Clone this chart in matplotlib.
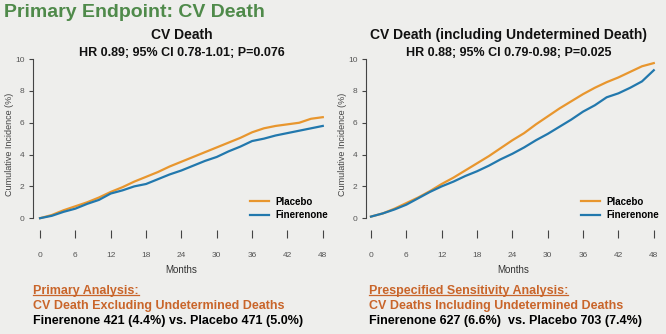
import numpy as np
import matplotlib.pyplot as plt
from matplotlib.lines import Line2D

plt.rcParams['font.family'] = ['Liberation Sans', 'DejaVu Sans']

# cumulative incidence (%) read every 2 months
months = np.arange(0, 49, 2)

cv_placebo = [0.0, 0.2, 0.5, 0.75, 1.0, 1.3, 1.65, 1.95, 2.3, 2.6, 2.9, 3.25, 3.55,
              3.85, 4.15, 4.45, 4.75, 5.05, 5.4, 5.65, 5.8, 5.9, 6.0, 6.25, 6.35]
cv_finerenone = [0.0, 0.15, 0.4, 0.6, 0.9, 1.15, 1.55, 1.75, 2.0, 2.15, 2.45, 2.75, 3.0,
                 3.3, 3.6, 3.85, 4.2, 4.5, 4.85, 5.0, 5.2, 5.35, 5.5, 5.65, 5.8]

und_placebo = [0.1, 0.3, 0.6, 0.95, 1.3, 1.7, 2.15, 2.55, 3.0, 3.45, 3.9, 4.4, 4.9,
               5.35, 5.9, 6.4, 6.9, 7.35, 7.8, 8.2, 8.55, 8.85, 9.2, 9.55, 9.75]
und_finerenone = [0.1, 0.3, 0.55, 0.85, 1.25, 1.65, 2.0, 2.3, 2.65, 2.95, 3.3, 3.7, 4.05,
                  4.45, 4.9, 5.3, 5.75, 6.2, 6.7, 7.1, 7.6, 7.85, 8.2, 8.6, 9.3]

xticks = list(range(0, 49, 6))
yticks = [0, 2, 4, 6, 8, 10]

BG = '#eeeeec'
ORANGE = '#e8962e'
BLUE = '#2278ad'
TXT_ORANGE = '#c9652a'
GREEN = '#4f8a4a'

fig = plt.figure(figsize=(6.66, 3.34), dpi=100, facecolor=BG)

fig.text(0.006, 0.963, 'Primary Endpoint: CV Death', color=GREEN, fontsize=14,
         fontweight='bold', va='center', ha='left')


def km_panel(rect, xmin, placebo, finerenone, title, hr, cx):
    ax = fig.add_axes(rect)
    ax.set_facecolor(BG)
    ax.plot(months, placebo, color=ORANGE, lw=1.6, label='Placebo')
    ax.plot(months, finerenone, color=BLUE, lw=1.6, label='Finerenone')
    ax.set_xlim(xmin, 49)
    ax.set_ylim(-0.75, 10)
    for s in ['top', 'right', 'bottom']:
        ax.spines[s].set_visible(False)
    ax.spines['left'].set_bounds(0, 10)
    ax.spines['left'].set_color('#444444')
    ax.spines['left'].set_linewidth(0.8)
    ax.set_xticks(xticks)
    ax.set_yticks(yticks)
    ax.tick_params(axis='x', length=6, width=0.8, color='#444444', pad=10,
                   labelsize=6, labelcolor='#555555')
    ax.tick_params(axis='y', length=3, width=0.8, color='#444444', pad=3,
                   labelsize=6, labelcolor='#555555')
    ax.set_xlabel('Months', fontsize=7, color='#333333', labelpad=4)
    ax.set_ylabel('Cumulative Incidence (%)', fontsize=6.5, color='#444444', labelpad=1)
    ax.legend(loc='lower right', bbox_to_anchor=(1.01, 0.035), frameon=False,
              handlelength=2.0, handletextpad=0.6, labelspacing=0.35,
              prop={'size': 7, 'weight': 'bold'}, borderaxespad=0)
    fig.text(cx, 0.895, title, fontsize=10, fontweight='bold', ha='center', va='center',
             color='#111111')
    fig.text(cx, 0.84, hr, fontsize=9, fontweight='bold', ha='center', va='center',
             color='#111111')
    return ax


km_panel([0.0495, 0.311, 0.444, 0.512], -1.2, cv_placebo, cv_finerenone,
         'CV Death', 'HR 0.89; 95% CI 0.78-1.01; P=0.076', 0.273)
km_panel([0.5495, 0.311, 0.441, 0.512], -0.85, und_placebo, und_finerenone,
         'CV Death (including Undetermined Death)', 'HR 0.88; 95% CI 0.79-0.98; P=0.025',
         0.764)

notes = [
    (0.05, 'Primary Analysis:', 'CV Death Excluding Undetermined Deaths',
     'Finerenone 421 (4.4%) vs. Placebo 471 (5.0%)'),
    (0.554, 'Prespecified Sensitivity Analysis:', 'CV Deaths Including Undetermined Deaths',
     'Finerenone 627 (6.6%)  vs. Placebo 703 (7.4%)'),
]
heads = []
for x0, head, sub, counts in notes:
    heads.append(fig.text(x0, 0.129, head, fontsize=9, fontweight='bold',
                          color=TXT_ORANGE, va='center'))
    fig.text(x0, 0.084, sub, fontsize=9, fontweight='bold', color=TXT_ORANGE,
             va='center')
    fig.text(x0, 0.039, counts, fontsize=9, fontweight='bold', color='black',
             va='center')

# underline the analysis headings
fig.canvas.draw()
inv = fig.transFigure.inverted()
for t in heads:
    bb = t.get_window_extent().transformed(inv)
    fig.add_artist(Line2D([bb.x0, bb.x1], [bb.y0 + 0.006, bb.y0 + 0.006],
                          color=TXT_ORANGE, lw=0.9, transform=fig.transFigure))

fig.savefig('out.png', dpi=100, facecolor=BG)
